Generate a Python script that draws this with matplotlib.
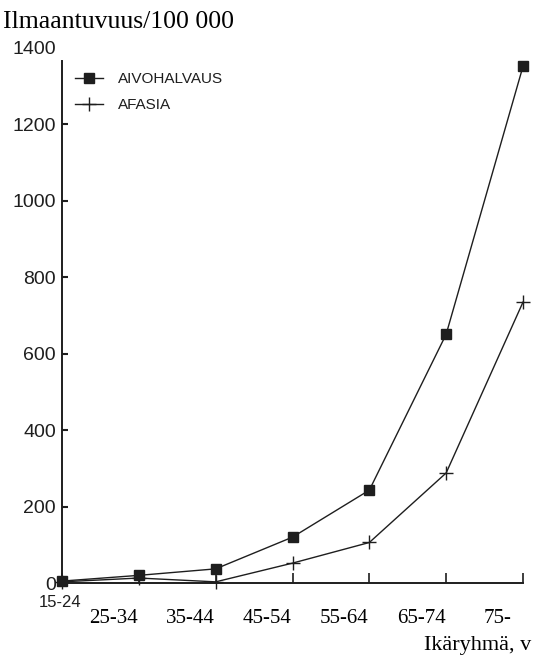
import matplotlib.pyplot as plt
from matplotlib.transforms import offset_copy

age_groups = ['15-24', '25-34', '35-44', '45-54', '55-64', '65-74', '75-']
aivohalvaus = [5, 20, 37, 120, 243, 651, 1352]
afasia = [3, 13, 3, 52, 106, 288, 735]
y_ticks = [0, 200, 400, 600, 800, 1000, 1200, 1400]

serif = ['Liberation Serif', 'DejaVu Serif']
sans = ['Liberation Sans', 'DejaVu Sans']
ink = '#1e1e1e'


def main():
    fig = plt.figure(figsize=(5.39, 6.57), dpi=100)
    ax = fig.add_axes([62 / 539, 74 / 657, 461 / 539, 535 / 657])

    x = list(range(len(age_groups)))
    ax.plot(x, aivohalvaus, color=ink, lw=1.0, marker='s', ms=6.5,
            mfc=ink, mec=ink, clip_on=False, label='AIVOHALVAUS')
    ax.plot(x, afasia, color=ink, lw=1.0, marker='+', ms=10, mew=1.0,
            clip_on=False, label='AFASIA')

    ax.set_xlim(0, 6)
    ax.set_ylim(0, 1400)

    for s in ['top', 'right']:
        ax.spines[s].set_visible(False)
    ax.spines['left'].set_bounds(0, 1366)
    ax.spines['left'].set_linewidth(1.4)
    ax.spines['bottom'].set_linewidth(1.4)
    ax.spines['left'].set_color(ink)
    ax.spines['bottom'].set_color(ink)

    # y axis
    ax.set_yticks(y_ticks)
    ax.set_yticklabels([str(v) for v in y_ticks], family=sans, fontsize=14)
    ax.tick_params(axis='y', direction='in', length=4.5, width=1.5,
                   pad=4.3, colors=ink)
    yt = ax.yaxis.get_major_ticks()
    yt[0].tick1line.set_visible(False)
    yt[-1].tick1line.set_visible(False)

    # x axis: ticks only, labels drawn by hand (offset to the left)
    ax.set_xticks(x)
    ax.set_xticklabels([])
    ax.tick_params(axis='x', direction='in', length=7, width=1.2, colors=ink)

    base = ax.get_xaxis_transform()
    t0 = offset_copy(base, fig=fig, x=-2, y=-24, units='dots')
    ax.text(0, 0, age_groups[0], transform=t0, ha='center', va='baseline',
            family=sans, fontsize=12, color=ink)
    t1 = offset_copy(base, fig=fig, x=-25, y=-40, units='dots')
    for i, lab in enumerate(age_groups[1:], start=1):
        ax.text(i, 0, lab, transform=t1, ha='center', va='baseline',
                family=serif, fontsize=15, color='black')

    leg = ax.legend(loc='upper left', bbox_to_anchor=(0.028, 0.955),
                    frameon=False, borderaxespad=0, borderpad=0,
                    handlelength=1.85, handletextpad=1.0, labelspacing=0.8,
                    prop={'family': sans, 'size': 11})
    for t in leg.get_texts():
        t.set_color(ink)

    fig.text(3 / 539, 1 - 28 / 657, 'Ilmaantuvuus/100 000', family=serif,
             fontsize=18.5, va='baseline', ha='left')
    fig.text(531 / 539, 1 - 650 / 657, 'Ikäryhmä, v', family=serif,
             fontsize=16, va='baseline', ha='right')

    fig.savefig('out.png', dpi=100)


if __name__ == '__main__':
    main()
